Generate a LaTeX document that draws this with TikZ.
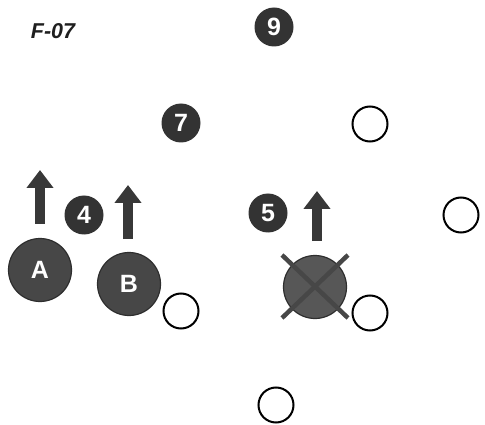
\documentclass[tikz,border=0pt]{standalone}
\usepackage{fontspec}
\setmainfont{Liberation Sans}
\usetikzlibrary{arrows.meta, positioning}

\begin{document}
\begin{tikzpicture}[
    x=1pt, y=-1pt,
    player/.style={circle, draw=black!82, line width=1.2pt, fill=black!72, minimum size=63pt, inner sep=0pt, text=white, font=\fontsize{25}{25}\selectfont\bfseries},
    number/.style={circle, fill=black!80, minimum size=39pt, inner sep=0pt, text=white, font=\fontsize{25}{25}\selectfont\bfseries},
    opponent/.style={circle, draw=black, line width=2pt, fill=white, minimum size=35pt, inner sep=0pt},
    move/.style={-{Triangle[width=26pt,length=18pt]}, line width=10pt, draw=black!78},
    cross/.style={line width=4.5pt, draw=black!72, line cap=butt},
    title/.style={font=\fontsize{21.5}{21.5}\selectfont\bfseries\itshape, text=black!88}
]
\useasboundingbox (0,0) rectangle (485,425);

% Title
\node[title] (code) at (53,31) {F-07};

% Numbered players
\node[number] (nine) at (274,27) {9};
\node[number] (seven) at (181,123) {7};
\node[number] (four) at (84,215) {4};
\node[number] (five) at (268,213) {5};

% Ball carriers
\node[player] (pa) at (40,270) {A};
\node[player] (pb) at (129,284) {B};
\node[player, fill=black!66] (px) at (315,287) {};

% Opponents
\node[opponent] (o1) at (370,124) {};
\node[opponent] (o2) at (461,215) {};
\node[opponent] (o3) at (181,311) {};
\node[opponent] (o4) at (370,313) {};
\node[opponent] (o5) at (276,405) {};

% Runs forward
\coordinate (runA-start) at (40,224);
\coordinate (runA-end) at (40,170);
\coordinate (runB-start) at (128,239);
\coordinate (runB-end) at (128,185);
\coordinate (runX-start) at (317,241);
\coordinate (runX-end) at (317,191);
\draw[move] (runA-start) -- (runA-end);
\draw[move] (runB-start) -- (runB-end);
\draw[move] (runX-start) -- (runX-end);

% Player crossed out
\draw[cross] ([shift={(-33,-32)}]px.center) -- ([shift={(33,31)}]px.center);
\draw[cross] ([shift={(33,-32)}]px.center) -- ([shift={(-33,31)}]px.center);

\end{tikzpicture}
\end{document}
